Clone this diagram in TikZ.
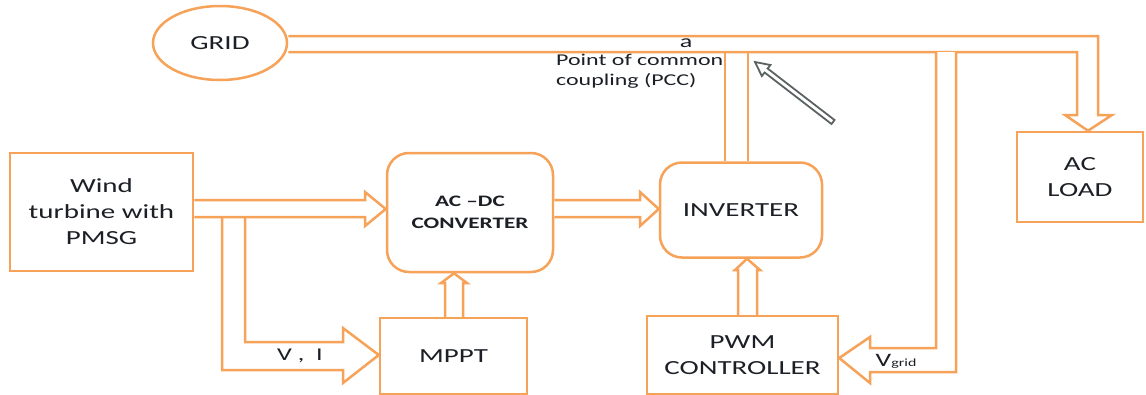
\documentclass[tikz,border=0pt]{standalone}
\usepackage{fontspec}
\setmainfont{Carlito}[FakeStretch=1.45]
\usetikzlibrary{shapes.geometric}
\definecolor{wire}{RGB}{246,162,88}
\definecolor{ink}{RGB}{28,32,38}
\definecolor{pointer}{RGB}{90,98,98}

\begin{document}
\begin{tikzpicture}[x=1pt,y=-1pt,line join=miter,
  every node/.style={text=ink},
  blk/.style={draw=wire,line width=2.5pt,fill=white,align=center,inner sep=0pt,
              font=\fontsize{20}{26}\selectfont},
  rblk/.style={blk,rounded corners=22pt},
  flow/.style={draw=wire,line width=2.5pt,fill=white},
  feed/.style={draw=wire,line width=2.5pt},
  tag/.style={inner sep=0pt,font=\fontsize{18}{18}\selectfont}]
\useasboundingbox (0,0) rectangle (1146,394);

% ---- blocks ----
\node[draw=wire,line width=2.5pt,ellipse,minimum width=134pt,minimum height=74pt,
      inner sep=0pt,font=\fontsize{20}{20}\selectfont] (grid) at (220,43) {GRID};
\node[blk,minimum width=183pt,minimum height=118pt] (wind) at (101.5,212) {Wind\\turbine with\\PMSG};
\node[rblk,minimum width=166pt,minimum height=119pt,
      font=\bfseries\fontsize{16}{22}\selectfont] (acdc) at (470,212.5) {AC –DC\\CONVERTER};
\node[rblk,minimum width=162pt,minimum height=95pt] (inv) at (741,210) {INVERTER};
\node[blk,minimum width=147pt,minimum height=76pt] (mppt) at (453.5,356) {MPPT};
\node[blk,minimum width=191pt,minimum height=78pt] (pwm) at (742.5,355) {PWM\\CONTROLLER};
\node[blk,minimum width=126pt,minimum height=90pt] (load) at (1080,177) {AC\\LOAD};

% ---- grid bus feeding the AC load ----
\draw[feed] (grid.east |- 0,36) -- (1098,36) -- (1098,115) -- (1112,115)
  -- (1088,0 |- load.north) -- (1065,115) -- (1077,115) -- (1077,52) -- (grid.east |- 0,52);

% ---- inverter tied to the PCC ----
\draw[feed] (725,52) -- (725,0 |- inv.north);
\draw[feed] (748,52) -- (748,0 |- inv.north);

% ---- grid voltage sensed by the PWM controller ----
\draw[flow] (936,52) -- (936,348) -- (870,348) -- (870,337) -- (pwm.east |- 0,358)
  -- (870,383) -- (870,372) -- (956,372) -- (956,52);

% ---- V, I measurement branch to MPPT ----
\draw[flow] (222,217) -- (222,370) -- (343,370) -- (343,383) -- (mppt.west |- 0,355)
  -- (343,328) -- (343,342) -- (245,342) -- (245,217);

% ---- power path ----
\draw[flow] (wind.east |- 0,200) -- (365,200) -- (365,192) -- (acdc.west |- 0,209)
  -- (365,226) -- (365,217) -- (wind.east |- 0,217);
\draw[flow] (acdc.east |- 0,200) -- (640,200) -- (640,192) -- (inv.west |- 0,209)
  -- (640,226) -- (640,217) -- (acdc.east |- 0,217);

% ---- control signals ----
\draw[flow] (445,0 |- mppt.north) -- (445,283) -- (441,283) -- (454,0 |- acdc.south)
  -- (467,283) -- (463,283) -- (463,0 |- mppt.north);
\draw[flow] (738,0 |- pwm.north) -- (738,270) -- (735,270) -- (747,0 |- inv.south)
  -- (760,270) -- (757,270) -- (757,0 |- pwm.north);

% ---- pointer to the PCC ----
\draw[draw=pointer,line width=1.8pt,fill=white] (834.5,120.0) -- (767.6,68.5) -- (770.4,65.0)
  -- (755,62) -- (761.8,76.0) -- (764.6,72.5) -- (831.5,124.0) -- cycle;

% ---- labels ----
\node[tag] (pa) at (686,43) {a};
\node[anchor=north west,align=left,inner sep=0pt,
      font=\fontsize{16.5}{20}\selectfont] (pcc) at (556,54) {Point of common\\coupling (PCC)};
\node[tag] (vi) at (300,356) {V ,\ \ I};
\node[tag,anchor=base] (vg) at (896,366) {{\fontsize{19}{19}\selectfont V}{\fontsize{11}{11}\selectfont grid}};
\end{tikzpicture}
\end{document}
